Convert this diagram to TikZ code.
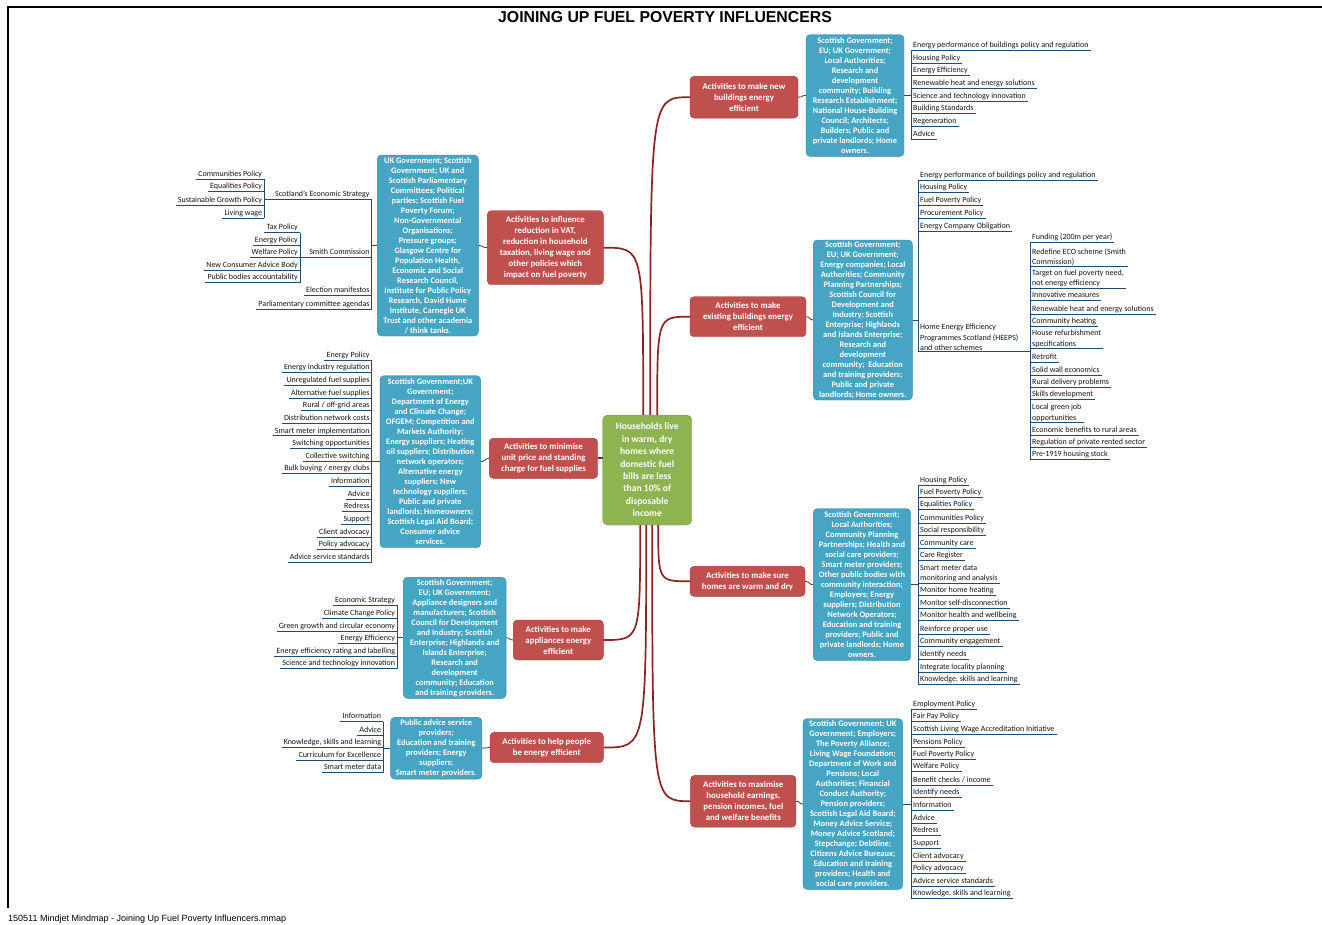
\documentclass[tikz,border=0pt]{standalone}
\usepackage{fontspec}
\setmainfont{Carlito}
\newfontfamily\arialf{Liberation Sans}
\definecolor{mred}{RGB}{192,80,77}
\definecolor{mredd}{RGB}{160,55,52}
\definecolor{mblue}{RGB}{70,165,195}
\definecolor{mblued}{RGB}{50,135,165}
\definecolor{mgreen}{RGB}{141,180,80}
\definecolor{mgreend}{RGB}{115,150,60}
\definecolor{rconn}{RGB}{140,35,35}
\definecolor{ulinec}{RGB}{35,75,110}
\definecolor{leaftext}{RGB}{20,20,20}
\definecolor{rbc}{RGB}{70,70,80}
\tikzset{
 redbox/.style={draw=mredd, fill=mred, rounded corners=4pt, text=white, font=\bfseries\fontsize{8.8}{11}\selectfont, align=center, inner sep=1pt},
 bluebox/.style={draw=mblued, fill=mblue, rounded corners=4pt, text=white, font=\bfseries\fontsize{8.4}{10}\selectfont, align=center, inner sep=1pt},
 centrebox/.style={draw=mgreend, fill=mgreen, rounded corners=5pt, text=white, font=\bfseries\fontsize{9.6}{12.4}\selectfont, align=center, inner sep=1pt},
 leafr/.style={anchor=south west, inner xsep=2pt, inner ysep=0.8pt, text depth=1.9pt, align=left, font=\fontsize{8}{10.5}\selectfont, text=leaftext},
 leafrm/.style={anchor=south west, inner xsep=2pt, inner ysep=0.8pt, align=left, font=\fontsize{8}{10.5}\selectfont, text=leaftext},
 leafl/.style={anchor=south east, inner xsep=2pt, inner ysep=0.8pt, text depth=1.9pt, align=right, font=\fontsize{8}{10.5}\selectfont, text=leaftext},
 leafline/.style={draw=ulinec, line width=0.9pt},
 redconn/.style={draw=rconn, line width=1.7pt},
 rbconn/.style={draw=rbc, line width=0.9pt},
 framel/.style={draw=black, line width=1.2pt},
}
\newcommand\mmR[4]{\node[leafr] (#1) at (#2,#3) {#4};\draw[leafline] (#1.south west) -- (#1.south east);}
\newcommand\mmRm[4]{\node[leafrm] (#1) at (#2,#3) {#4};\draw[leafline] (#1.south west) -- (#1.south east);}
\newcommand\mmL[4]{\node[leafl] (#1) at (#2,#3) {#4};\draw[leafline] (#1.south west) -- (#1.south east);}
\begin{document}
\begin{tikzpicture}[x=1pt,y=-1pt]
\useasboundingbox (0,0) rectangle (1322,924);
% frame, title, footer
\coordinate (fBL) at (8,908);
\coordinate (fTL) at (8,7);
\coordinate (fTR) at (1322,7);
\draw[framel] (fBL) -- (fTL) -- (fTR);
\node[font=\arialf\bfseries\fontsize{15.8}{18}\selectfont] (title) at (665,17) {JOINING UP FUEL POVERTY INFLUENCERS};
\node[anchor=west, inner sep=0pt, font=\arialf\fontsize{9}{10}\selectfont] (footer) at (8,919) {150511 Mindjet Mindmap - Joining Up Fuel Poverty Influencers.mmap};

% central topic
\node[centrebox, minimum width=89pt, minimum height=110pt] (G) at (647.2,470) {Households live\\in warm, dry\\homes where\\domestic fuel\\bills are less\\than 10\% of\\disposable\\income};

% main topics
\node[redbox, minimum width=108pt, minimum height=41.7pt] (R1) at (744,97.2) {Activities to make new\\buildings energy\\efficient};
\node[redbox, minimum width=116pt, minimum height=74pt] (R2) at (545.3,247.7) {Activities to influence\\reduction in VAT,\\reduction in household\\taxation, living wage and\\other policies which\\impact on fuel poverty};
\node[redbox, minimum width=116pt, minimum height=40pt] (R3) at (748,316.7) {Activities to make\\existing buildings energy\\efficient};
\node[redbox, minimum width=108.4pt, minimum height=40pt] (R4) at (543.5,458.3) {Activities to minimise\\unit price and standing\\charge for fuel supplies};
\node[redbox, minimum width=115pt, minimum height=30pt] (R5) at (747.5,581.3) {Activities to make sure\\homes are warm and dry};
\node[redbox, minimum width=90pt, minimum height=40pt] (R6) at (558.3,640) {Activities to make\\appliances energy\\efficient};
\node[redbox, minimum width=113.3pt, minimum height=30.4pt] (R7) at (546.7,747.5) {Activities to help people\\be energy efficient};
\node[redbox, minimum width=105.3pt, minimum height=51.7pt] (R8) at (743.3,801.2) {Activities to maximise\\household earnings,\\pension incomes, fuel\\and welfare benefits};

% red connectors
\coordinate (gtA) at ([xshift=-4pt]G.north);
\coordinate (gtB) at ([xshift=3pt]G.north);
\coordinate (gtC) at ([xshift=10pt]G.north);
\coordinate (gbA) at ([xshift=-7pt]G.south);
\coordinate (gbB) at ([xshift=-1pt]G.south);
\coordinate (gbC) at ([xshift=5pt]G.south);
\coordinate (gbD) at ([xshift=11pt]G.south);
\draw[redconn] (gtA) .. controls (gtA |- R2.east) and (gtA |- R2.east) .. (R2.east);
\draw[redconn] (gtB) .. controls (gtB |- R1.west) and (gtB |- R1.west) .. (R1.west);
\draw[redconn] (gtC) .. controls (gtC |- R3.west) and (gtC |- R3.west) .. (R3.west);
\draw[redconn] (R4.east) -- (G.west |- R4.east);
\draw[redconn] (gbA) .. controls (gbA |- R6.east) and (gbA |- R6.east) .. (R6.east);
\draw[redconn] (gbB) .. controls (gbB |- R7.east) and (gbB |- R7.east) .. (R7.east);
\draw[redconn] (gbC) .. controls (gbC |- R8.west) and (gbC |- R8.west) .. (R8.west);
\draw[redconn] (gbD) .. controls (gbD |- R5.west) and (gbD |- R5.west) .. (R5.west);

% stakeholder boxes
\node[bluebox, minimum width=98pt, minimum height=121.6pt] (B1) at (855,95.5) {Scottish Government;\\EU; UK Government;\\Local Authorities;\\Research and\\development\\community; Building\\Research Establishment;\\National House-Building\\Council; Architects;\\Builders; Public and\\private landlords; Home\\owners.};
\node[bluebox, minimum width=101pt, minimum height=181pt] (B2) at (427.8,245.5) {UK Government; Scottish\\Government; UK and\\Scottish Parliamentary\\Committees; Political\\parties; Scottish Fuel\\Poverty Forum;\\Non-Governmental\\Organisations;\\Pressure groups;\\Glasgow Centre for\\Population Health,\\Economic and Social\\Research Council,\\Institute for Public Policy\\Research, David Hume\\Institute, Carnegie UK\\Trust and other academia\\/ think tanks.};
\node[bluebox, minimum width=99pt, minimum height=160pt] (B3) at (862.8,320) {Scottish Government;\\EU; UK Government;\\Energy companies; Local\\Authorities; Community\\Planning Partnerships;\\Scottish Council for\\Development and\\Industry; Scottish\\Enterprise; Highlands\\and Islands Enterprise;\\Research and\\development\\community;\ \ Education\\and training providers;\\Public and private\\landlords; Home owners.};
\node[bluebox, minimum width=100.7pt, minimum height=172pt] (B4) at (430.3,461.7) {Scottish Government;UK\\Government;\\Department of Energy\\and Climate Change;\\OFGEM; Competition and\\Markets Authority;\\Energy suppliers; Heating\\oil suppliers; Distribution\\network operators;\\Alternative energy\\suppliers; New\\technology suppliers;\\Public and private\\landlords; Homeowners;\\Scottish Legal Aid Board;\\Consumer advice\\services.};
\node[bluebox, minimum width=97.4pt, minimum height=152pt] (B5) at (862,584.7) {Scottish Government;\\Local Authorities;\\Community Planning\\Partnerships; Health and\\social care providers;\\Smart meter providers;\\Other public bodies with\\community interaction;\\Employers; Energy\\suppliers; Distribution\\Network Operators;\\Education and training\\providers; Public and\\private landlords; Home\\owners.};
\node[bluebox, minimum width=102.7pt, minimum height=121pt] (B6) at (454.7,637.8) {Scottish Government;\\EU; UK Government;\\Appliance designers and\\manufacturers; Scottish\\Council for Development\\and Industry; Scottish\\Enterprise; Highlands and\\Islands Enterprise;\\Research and\\development\\community; Education\\and training providers.};
\node[bluebox, minimum width=91.3pt, minimum height=61.7pt] (B7) at (436.3,748.2) {Public advice service\\providers;\\Education and training\\providers; Energy\\suppliers;\\Smart meter providers.};
\node[bluebox, minimum width=99.7pt, minimum height=170.6pt] (B8) at (852.8,804) {Scottish Government; UK\\Government; Employers;\\The Poverty Alliance;\\Living Wage Foundation;\\Department of Work and\\Pensions; Local\\Authorities; Financial\\Conduct Authority;\\Pension providers;\\Scottish Legal Aid Board;\\Money Advice Service;\\Money Advice Scotland;\\Stepchange; Debtline;\\Citizens Advice Bureaux;\\Education and training\\providers; Health and\\social care providers.};

% red to blue connectors
\draw[rbconn] (R1.east) .. controls +(6,0) and +(-6,0) .. (B1.west);
\draw[rbconn] (R3.east) .. controls +(4,0) and +(-4,0) .. (B3.west);
\draw[rbconn] (R5.east) .. controls +(4,0) and +(-4,0) .. (B5.west);
\draw[rbconn] (R8.east) .. controls +(4,0) and +(-4,0) .. (B8.west);
\draw[rbconn] (R2.west) .. controls +(-4,0) and +(4,0) .. (B2.east);
\draw[rbconn] (R4.west) .. controls +(-4,0) and +(4,0) .. (B4.east);
\draw[rbconn] (R6.west) .. controls +(-4,0) and +(4,0) .. (B6.east);
\draw[rbconn] (R7.west) .. controls +(-4,0) and +(4,0) .. (B7.east);

% B1 leaves
\mmR{b1a}{911}{50.3}{Energy performance of buildings policy and regulation}
\mmR{b1b}{911}{63}{Housing Policy}
\mmR{b1c}{911}{75.6}{Energy Efficiency}
\mmR{b1d}{911}{88.3}{Renewable heat and energy solutions}
\mmR{b1e}{911}{101}{Science and technology innovation}
\mmR{b1f}{911}{113.6}{Building Standards}
\mmR{b1g}{911}{126.3}{Regeneration}
\mmR{b1h}{911}{139}{Advice}
\draw[leafline] (b1a.south west) -- (b1h.south west);
\draw[leafline] (B1.east) -- (B1.east -| b1a.south west);

% B3 leaves
\mmR{h1}{1030}{242.7}{Funding (200m per year)}
\mmRm{h2}{1030}{266.7}{Redefine ECO scheme (Smith\\Commission)}
\mmRm{h3}{1030}{288.3}{Target on fuel poverty need,\\not energy efficiency}
\mmR{h4}{1030}{300.7}{Innovative measures}
\mmR{h5}{1030}{314}{Renewable heat and energy solutions}
\mmR{h6}{1030}{326}{Community heating}
\mmRm{h7}{1030}{348.7}{House refurbishment\\specifications}
\mmR{h8}{1030}{362.3}{Retrofit}
\mmR{h9}{1030}{375}{Solid wall economics}
\mmR{h10}{1030}{387.3}{Rural delivery problems}
\mmR{h11}{1030}{399.7}{Skills development}
\mmRm{h12}{1030}{422.3}{Local green job\\opportunities}
\mmR{h13}{1030}{435}{Economic benefits to rural areas}
\mmR{h14}{1030}{447.3}{Regulation of private rented sector}
\mmR{h15}{1030}{459.7}{Pre-1919 housing stock}
\draw[leafline] (h1.south west) -- (h15.south west);
\mmR{b3a}{918}{180}{Energy performance of buildings policy and regulation}
\mmR{b3b}{918}{192.7}{Housing Policy}
\mmR{b3c}{918}{205}{Fuel Poverty Policy}
\mmR{b3d}{918}{218}{Procurement Policy}
\mmR{b3e}{918}{231}{Energy Company Obligation}
\node[leafrm] (b3f) at (918,351.7) {Home Energy Efficiency\\Programmes Scotland (HEEPS)\\and other schemes};
\draw[leafline] (b3f.south west) -- (b3f.south west -| h1.south west);
\draw[leafline] (b3a.south west) -- (b3f.south west);
\draw[leafline] (B3.east) -- (B3.east -| b3a.south west);

% B5 leaves
\mmR{w1}{918}{485.3}{Housing Policy}
\mmR{w2}{918}{497.3}{Fuel Poverty Policy}
\mmR{w3}{918}{509.7}{Equalities Policy}
\mmR{w4}{918}{523.7}{Communities Policy}
\mmR{w5}{918}{535.7}{Social responsibility}
\mmR{w6}{918}{548.3}{Community care}
\mmR{w7}{918}{560.7}{Care Register}
\mmRm{w8}{918}{583}{Smart meter data\\monitoring and analysis}
\mmR{w9}{918}{595.7}{Monitor home heating}
\mmR{w10}{918}{608.3}{Monitor self-disconnection}
\mmR{w11}{918}{620.7}{Monitor health and wellbeing}
\mmR{w12}{918}{634.7}{Reinforce proper use}
\mmR{w13}{918}{646.7}{Community engagement}
\mmR{w14}{918}{659}{Identify needs}
\mmR{w15}{918}{672}{Integrate locality planning}
\mmR{w16}{918}{684.3}{Knowledge, skills and learning}
\draw[leafline] (w1.south west) -- (w16.south west);
\draw[leafline] (B5.east) -- (B5.east -| w1.south west);

% B8 leaves
\mmR{e1}{911}{709.7}{Employment Policy}
\mmR{e2}{911}{721.7}{Fair Pay Policy}
\mmR{e3}{911}{734.3}{Scottish Living Wage Accreditation Initiative}
\mmR{e4}{911}{747}{Pensions Policy}
\mmR{e5}{911}{759.3}{Fuel Poverty Policy}
\mmR{e6}{911}{771.7}{Welfare Policy}
\mmR{e7}{911}{785.3}{Benefit checks / income}
\mmR{e8}{911}{797.7}{Identify needs}
\mmR{e9}{911}{810.3}{Information}
\mmR{e10}{911}{823}{Advice}
\mmR{e11}{911}{835.3}{Redress}
\mmR{e12}{911}{848.7}{Support}
\mmR{e13}{911}{861}{Client advocacy}
\mmR{e14}{911}{873.7}{Policy advocacy}
\mmR{e15}{911}{886.3}{Advice service standards}
\mmR{e16}{911}{898.7}{Knowledge, skills and learning}
\draw[leafline] (e1.south west) -- (e16.south west);
\draw[leafline] (B8.east) -- (B8.east -| e1.south west);

% B2 leaves (left)
\mmL{s1}{264.3}{179.3}{Communities Policy}
\mmL{s2}{264.3}{191.7}{Equalities Policy}
\mmL{s3}{264.3}{205}{Sustainable Growth Policy}
\mmL{s4}{264.3}{218.3}{Living wage}
\draw[leafline] (s1.south east) -- (s4.south east);
\mmL{m1}{300}{232.7}{Tax Policy}
\mmL{m2}{300}{245}{Energy Policy}
\mmL{m3}{300}{257.7}{Welfare Policy}
\mmL{m4}{300}{270}{New Consumer Advice Body}
\mmL{m5}{300}{282.7}{Public bodies accountability}
\draw[leafline] (m1.south east) -- (m5.south east);
\node[leafl] (v1) at (371.7,199.3) {Scotland's Economic Strategy};
\draw[leafline] (v1.south east) -- (v1.south east -| s1.south east);
\node[leafl] (v2) at (371.7,257.7) {Smith Commission};
\draw[leafline] (v2.south east) -- (v2.south east -| m1.south east);
\mmL{v3}{371.7}{295}{Election manifestos}
\mmL{v4}{371.7}{309}{Parliamentary committee agendas}
\draw[leafline] (v1.south east) -- (v4.south east);
\draw[leafline] (B2.west) -- (B2.west -| v1.south east);

% B4 leaves
\mmL{u1}{371.7}{360}{Energy Policy}
\mmL{u2}{371.7}{372.65}{Energy industry regulation}
\mmL{u3}{371.7}{385.3}{Unregulated fuel supplies}
\mmL{u4}{371.7}{397.95}{Alternative fuel supplies}
\mmL{u5}{371.7}{410.6}{Rural / off-grid areas}
\mmL{u6}{371.7}{423.25}{Distribution network costs}
\mmL{u7}{371.7}{435.9}{Smart meter implementation}
\mmL{u8}{371.7}{448.55}{Switching opportunities}
\mmL{u9}{371.7}{461.2}{Collective switching}
\mmL{u10}{371.7}{473.85}{Bulk buying / energy clubs}
\mmL{u11}{371.7}{486.5}{Information}
\mmL{u12}{371.7}{499.15}{Advice}
\mmL{u13}{371.7}{511.8}{Redress}
\mmL{u14}{371.7}{524.45}{Support}
\mmL{u15}{371.7}{537.1}{Client advocacy}
\mmL{u16}{371.7}{549.75}{Policy advocacy}
\mmL{u17}{371.7}{562.4}{Advice service standards}
\draw[leafline] (u1.south east) -- (u17.south east);
\draw[leafline] (B4.west) -- (B4.west -| u1.south east);

% B6 leaves
\mmL{p1}{397.3}{605}{Economic Strategy}
\mmL{p2}{397.3}{618.3}{Climate Change Policy}
\mmL{p3}{397.3}{631}{Green growth and circular economy}
\mmL{p4}{397.3}{643.7}{Energy Efficiency}
\mmL{p5}{397.3}{656}{Energy efficiency rating and labelling}
\mmL{p6}{397.3}{668.7}{Science and technology innovation}
\draw[leafline] (p1.south east) -- (p6.south east);
\draw[leafline] (B6.west) -- (B6.west -| p1.south east);

% B7 leaves
\mmL{q1}{383.3}{721.7}{Information}
\mmL{q2}{383.3}{735.7}{Advice}
\mmL{q3}{383.3}{747.7}{Knowledge, skills and learning}
\mmL{q4}{383.3}{760}{Curriculum for Excellence}
\mmL{q5}{383.3}{772.7}{Smart meter data}
\draw[leafline] (q1.south east) -- (q5.south east);
\draw[leafline] (B7.west) -- (B7.west -| q1.south east);
\end{tikzpicture}
\end{document}
